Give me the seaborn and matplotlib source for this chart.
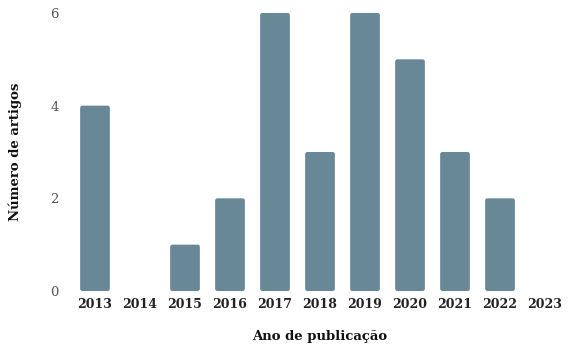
import matplotlib
matplotlib.use("Agg")
import matplotlib.pyplot as plt
from matplotlib.patches import FancyBboxPatch
import seaborn as sns
import pandas as pd

years = ["2013", "2014", "2015", "2016", "2017", "2018", "2019", "2020", "2021", "2022", "2023"]
counts = [4, 0, 1, 2, 6, 3, 6, 5, 3, 2, 0]
yticks = [0, 2, 4, 6]

df = pd.DataFrame({"ano": years, "n": counts})

sns.set_theme(style="white")
plt.rcParams["font.family"] = ["DejaVu Serif"]

fig = plt.figure(figsize=(5.69, 3.49), dpi=100)
ax = fig.add_axes([0.1274, 0.1662, 0.87, 0.7966])
sns.barplot(data=df, x="ano", y="n", color="#688897", saturation=1, width=0.66,
            linewidth=0, ax=ax)

# round the corners slightly
for p in list(ax.patches):
    h = p.get_height()
    if h <= 0:
        p.remove()
        continue
    x, y, w = p.get_x(), p.get_y(), p.get_width()
    fb = FancyBboxPatch((x, y), w, h, boxstyle="round,pad=0,rounding_size=0.05",
                        mutation_aspect=1.0, facecolor=p.get_facecolor(), linewidth=0)
    p.remove()
    ax.add_patch(fb)

ax.set_ylim(0, 6)
ax.set_xlim(-0.5, 10.5)
ax.set_yticks(yticks)
ax.set_yticklabels([str(v) for v in yticks], color="#555555", fontsize=9.5)
for lbl in ax.get_xticklabels():
    lbl.set_fontweight("bold")
    lbl.set_fontsize(9)
    lbl.set_color("#222222")
ax.tick_params(axis="y", length=0, pad=10)
ax.tick_params(axis="x", length=0, pad=5)
ax.set_xlabel("Ano de publicação", fontweight="bold", fontsize=9.5, labelpad=14, color="#111111")
ax.set_ylabel("Número de artigos", fontweight="bold", fontsize=9.5, labelpad=20, color="#111111")
for s in ax.spines.values():
    s.set_visible(False)

fig.savefig("out.png", dpi=100)
